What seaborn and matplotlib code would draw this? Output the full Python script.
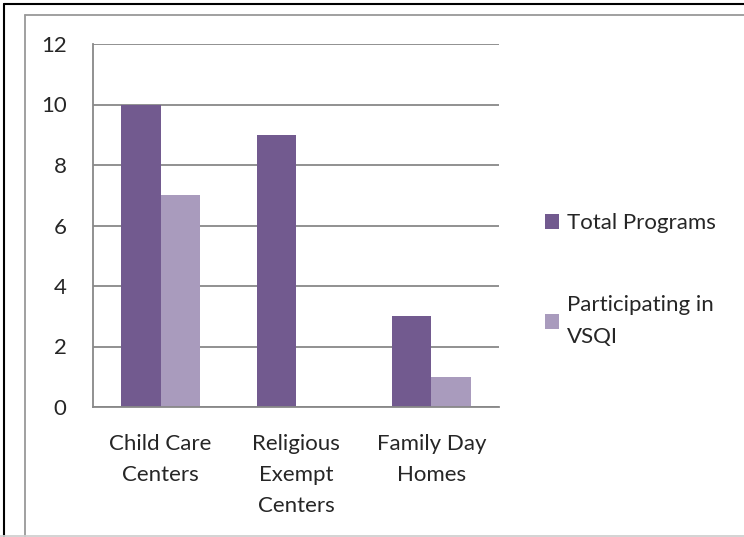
import pandas as pd
import matplotlib.pyplot as plt
import seaborn as sns
from matplotlib.lines import Line2D

# dados do grafico
categorias = ['Child Care\nCenters', 'Religious\nExempt\nCenters', 'Family Day\nHomes']
total_programas = [10, 9, 3]
participando_vsqi = [7, 0, 1]
series = ['Total Programs', 'Participating in\nVSQI']
cores = ['#725A8F', '#A99BBD']
yticks = [0, 2, 4, 6, 8, 10, 12]

df = pd.DataFrame({
    'Categoria': categorias * 2,
    'Valor': total_programas + participando_vsqi,
    'Serie': [series[0]] * 3 + [series[1]] * 3,
})

sns.set_style('white')
plt.rcParams['font.family'] = ['Lato', 'DejaVu Sans']

W, H = 744, 537
fig = plt.figure(figsize=(W / 100, H / 100), dpi=100)
ax = fig.add_axes([93 / W, (H - 407) / H, (499 - 93) / W, (407 - 44) / H])

sns.barplot(data=df, x='Categoria', y='Valor', hue='Serie', palette=cores,
            width=0.58, gap=0, saturation=1, linewidth=0, ax=ax, legend=True)

ax.set_ylim(0, 12)
ax.set_yticks(yticks)
ax.set_xlim(-0.5, 2.5)
ax.set_xlabel('')
ax.set_ylabel('')
ax.grid(axis='y', color='#888888', linewidth=1.3)
ax.set_axisbelow(True)
for lado in ['top', 'right']:
    ax.spines[lado].set_visible(False)
for lado in ['left', 'bottom']:
    ax.spines[lado].set_color('#888888')
    ax.spines[lado].set_linewidth(1.3)

# marcas do eixo x nas divisas entre categorias
ax.set_xticks([0, 1, 2])
ax.set_xticklabels(categorias, fontsize=16, linespacing=1.7)
ax.tick_params(axis='x', length=0, pad=19.5)
ax.set_xticks([-0.5, 0.5, 1.5, 2.5], minor=True)
ax.tick_params(axis='x', which='minor', length=6, width=1.3, color='#888888')
ax.tick_params(axis='y', length=8, width=1.3, color='#888888', labelsize=16, pad=11)

leg = ax.legend(loc='center left', bbox_to_anchor=(1.085, 0.35), frameon=False,
                fontsize=16, handlelength=0.65, handleheight=0.65,
                handletextpad=0.35, labelspacing=2.8, borderpad=0)
for t in leg.get_texts():
    t.set_linespacing(1.7)

# molduras ao redor do grafico
fig.add_artist(Line2D([4 / W, 4 / W], [0, 1 - 4 / H], color='black', linewidth=1.5))
fig.add_artist(Line2D([4 / W, 1], [1 - 4 / H, 1 - 4 / H], color='black', linewidth=1.5))
fig.add_artist(Line2D([25 / W, 25 / W], [0, 1 - 15 / H], color='#999999', linewidth=1.3))
fig.add_artist(Line2D([25 / W, 1], [1 - 15 / H, 1 - 15 / H], color='#999999', linewidth=1.3))
fig.add_artist(Line2D([0, 1], [1 / H, 1 / H], color='#d0d0d0', linewidth=1.3))

fig.savefig('out.png', dpi=100)
